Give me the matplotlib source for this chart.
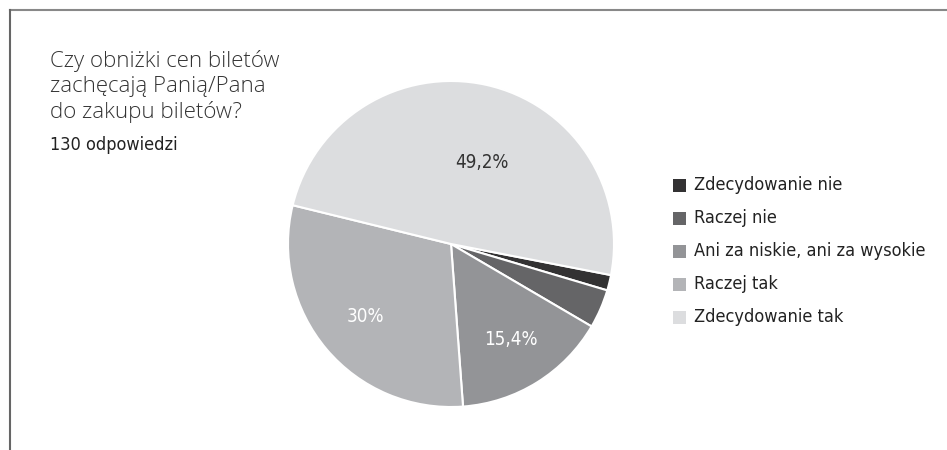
import matplotlib
matplotlib.use("Agg")
import matplotlib.pyplot as plt
from matplotlib import font_manager
from matplotlib.font_manager import FontProperties
import numpy as np

# data
categories = ["Zdecydowanie nie", "Raczej nie", "Ani za niskie, ani za wysokie",
              "Raczej tak", "Zdecydowanie tak"]
counts = [2, 5, 20, 39, 64]
colors = ["#333233", "#656567", "#939497", "#b3b4b7", "#dcdddf"]
pct_text_colors = [None, None, "white", "white", "#333333"]
title = "Czy obniżki cen biletów\nzachęcają Panią/Pana\ndo zakupu biletów?"
subtitle = "130 odpowiedzi"


def find_font(keys):
    files = [f.fname for f in font_manager.fontManager.ttflist]
    for k in keys:
        for fn in files:
            if k.lower() in fn.lower().replace("_", "").replace("-", ""):
                return fn
    return None


narrow_file = find_font(["OpenSansCondensedLight", "OpenSansCondensed",
                         "LiberationSansNarrowRegular", "LiberationSansNarrow",
                         "DejaVuSansCondensed.ttf", "DejaVuSansCondensed"])
light_file = find_font(["OpenSansLight.ttf", "OpenSansLight"])


def narrow(size):
    if narrow_file:
        return FontProperties(fname=narrow_file, size=size)
    return FontProperties(family="DejaVu Sans", stretch="condensed", size=size)


def light(size):
    if light_file:
        return FontProperties(fname=light_file, size=size)
    return FontProperties(family="Open Sans", weight="light", size=size)


W, H = 947, 450
fig = plt.figure(figsize=(W / 100, H / 100), dpi=100)

# pie: center (451, 244) px, radius 163 px
cx, cy, r = 451, 244, 163
ax = fig.add_axes([(cx - r) / W, (H - cy - r) / H, 2 * r / W, 2 * r / H])
wedges, _ = ax.pie(counts, colors=colors, startangle=-11, counterclock=False,
                   radius=1, wedgeprops=dict(edgecolor="white", linewidth=1.5))
ax.set_xlim(-1, 1)
ax.set_ylim(-1, 1)
ax.set_aspect("equal")
ax.axis("off")

total = sum(counts)
for w, c, tc in zip(wedges, counts, pct_text_colors):
    if tc is None:
        continue
    pct = 100 * c / total
    txt = f"{pct:.1f}".rstrip("0").rstrip(".").replace(".", ",") + "%"
    mid = np.deg2rad((w.theta1 + w.theta2) / 2)
    d = 0.69
    x, y = d * np.cos(mid), d * np.sin(mid)
    if c == max(counts):
        # big slice label sits lower, toward the center
        x, y = 0.19, 0.50
    ax.text(x, y, txt, ha="center", va="center", color=tc, fontproperties=narrow(13.5))

# title block
fig.text(50 / W, 1 - 50 / H, title, ha="left", va="top", fontproperties=light(16),
         color="#333333", linespacing=1.24)
fig.text(50 / W, 1 - 136 / H, subtitle, ha="left", va="top",
         fontproperties=narrow(13), color="#222222")

# legend
for i, (lab, col) in enumerate(zip(categories, colors)):
    yc = 185 + i * 33
    fig.patches.append(plt.Rectangle((673 / W, 1 - (yc + 7) / H), 13 / W, 13 / H,
                                     transform=fig.transFigure, facecolor=col,
                                     edgecolor="none"))
    fig.text(694 / W, 1 - yc / H, lab, ha="left", va="center",
             fontproperties=narrow(13), color="#222222")

# frame lines (top and left)
fig.add_artist(plt.Line2D([9.5 / W, 1], [1 - 9.5 / H, 1 - 9.5 / H],
                          transform=fig.transFigure, color="#888888", linewidth=1.5))
fig.add_artist(plt.Line2D([9.5 / W, 9.5 / W], [0, 1 - 9.5 / H],
                          transform=fig.transFigure, color="#666666", linewidth=1.5))

fig.savefig("out.png", dpi=100, facecolor="white")
